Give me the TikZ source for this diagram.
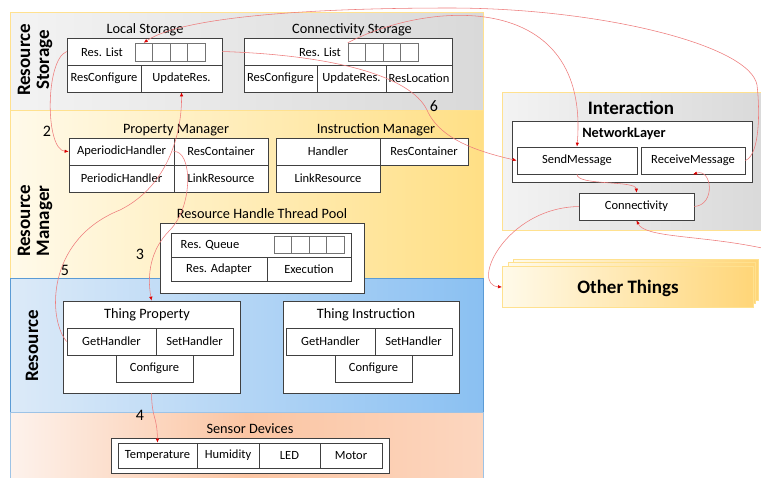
\documentclass[tikz,border=0pt]{standalone}
\usepackage{fontspec}
\setmainfont{Carlito}
\usetikzlibrary{arrows.meta}
\definecolor{stoL}{HTML}{F3F3F3}
\definecolor{stoR}{HTML}{D9D9D9}
\definecolor{manL}{HTML}{FFFAEA}
\definecolor{manR}{HTML}{FFDF85}
\definecolor{resL}{HTML}{DCEAF8}
\definecolor{resR}{HTML}{8AC0F2}
\definecolor{senL}{HTML}{FDF2EC}
\definecolor{senM}{HTML}{FBC5A3}
\definecolor{senR}{HTML}{FCD6BF}
\definecolor{edgeY}{HTML}{FFE18F}
\definecolor{edgeB}{HTML}{5B9BD5}
\definecolor{linkred}{HTML}{EE7B7B}
\begin{document}
\begin{tikzpicture}[x=1pt,y=-1pt,
    cell/.style={draw=black!75, fill=white, line width=.65pt, inner sep=0pt, font=\fontsize{12.5}{14}\selectfont},
    arrcell/.style={draw=black!55, fill=white, line width=.5pt, minimum width=17.5pt, minimum height=18pt, inner sep=0pt},
    boxtitle/.style={font=\fontsize{14.3}{16}\selectfont},
    bandlabel/.style={rotate=90, align=center, font=\fontsize{19}{19}\selectfont\bfseries},
    num/.style={font=\fontsize{16}{16}\selectfont},
    band/.style={line width=.8pt},
    flow/.style={draw=linkred, line width=.55pt, -{Latex[length=4pt,width=3.4pt,color=red!85!black]}}]
  \useasboundingbox[fill=white] (0,0) rectangle (761,477);

  % layers
  \path[band, draw=edgeY, left color=stoL, right color=stoR] (10,12) rectangle (483,110);
  \path[band, draw=edgeY, left color=manL, right color=manR] (10,110) rectangle (483,278);
  \path[band, draw=edgeB, left color=resL, right color=resR] (10,278) rectangle (483,412);
  \path[band, draw=edgeB!60, left color=senL, right color=senR, middle color=senM] (10,412) rectangle (483,482);
  \path[band, draw=edgeY, left color=stoL, right color=stoR] (502,92) rectangle (768,230);

  \node[bandlabel] (lblSto) at (35,60) {Resource\\Storage};
  \node[bandlabel] (lblMan) at (35,221) {Resource\\Manager};
  \node[bandlabel] (lblRes) at (32,346) {Resource};

  % other things (stacked)
  \foreach \dx/\dy in {11/-7, 6/-4, 0/0}{
    \path[draw=edgeY, line width=.7pt, left color=manL, right color=manR!90!orange]
      (502+\dx,266+\dy) rectangle (753+\dx/2.2,307+\dy);
  }
  \node[font=\fontsize{19}{19}\selectfont\bfseries] (other) at (628,288) {Other Things};
  \coordinate (otherW) at (502,287);

  % white containers and cells
  \foreach \n/\xa/\ya/\xb/\yb/\t in {%
      lsList/67/38/222/65/, lsCfg/67/65/141/92/ResConfigure, lsUpd/141/65/222/92/UpdateRes.,
      csList/244/38/452/65/, csCfg/244/65/317/92/ResConfigure, csUpd/317/65/386/92/UpdateRes.,
      csLoc/386/65/452/92/ResLocation,
      pmAp/69/138/174/165/AperiodicHandler, pmRes/174/138/268/165/ResContainer,
      pmPer/69/165/174/192/PeriodicHandler, pmLink/174/165/268/192/LinkResource,
      imHnd/276/138/380/165/Handler, imRes/380/138/468/165/ResContainer,
      imLink/276/165/380/192/LinkResource,
      pool/160/223/364/293/, poolQ/171/233/351/257/, poolAd/171/257/267/281/Res. Adapter,
      poolEx/267/257/351/281/Execution,
      tp/63/301/240/393/, tpGet/67/328/156/355/GetHandler, tpSet/156/328/233/355/SetHandler,
      tpCfg/116/355/193/382/Configure,
      ti/283/301/459/393/, tiGet/286/328/375/355/GetHandler, tiSet/375/328/452/355/SetHandler,
      tiCfg/335/355/412/382/Configure,
      sen/111/438/389/473/, temp/118/443/197/468/Temperature, hum/197/443/259/468/Humidity,
      led/259/443/320/468/LED, motor/320/443/382/468/Motor,
      net/512/121/752/182/, sendMsg/517/147/637/174/SendMessage,
      recvMsg/641/147/745/174/ReceiveMessage, conn/579/193/694/220/Connectivity
    }{
    \node[cell, minimum width={(\xb-\xa)*1pt}, minimum height={(\yb-\ya)*1pt}]
      (\n) at ({(\xa+\xb)/2},{(\ya+\yb)/2}) {\t};
  }

  % resource lists and queue
  \foreach \i in {1,...,4}{
    \node[arrcell] (lsArr\i) at ({135+17.5*(\i-.5)},52) {};
    \node[arrcell] (csArr\i) at ({348+17.5*(\i-.5)},52) {};
    \node[arrcell, minimum height=17pt] (poolArr\i) at ({274+17.5*(\i-.5)},244.5) {};
  }
  \node[font=\fontsize{12.5}{14}\selectfont] (lsListT) at (102,52) {Res. List};
  \node[font=\fontsize{12.5}{14}\selectfont] (csListT) at (320,52) {Res. List};
  \node[font=\fontsize{12.5}{14}\selectfont] (poolQT) at (210,245) {Res. Queue};

  % titles
  \node[boxtitle] (lsT) at (145,30) {Local Storage};
  \node[boxtitle] (csT) at (352,30) {Connectivity Storage};
  \node[boxtitle] (pmT) at (176,130) {Property Manager};
  \node[boxtitle] (imT) at (376,130) {Instruction Manager};
  \node[boxtitle] (poolT) at (262,214) {Resource Handle Thread Pool};
  \node[boxtitle] (tpT) at (147,315) {Thing Property};
  \node[boxtitle] (tiT) at (366,315) {Thing Instruction};
  \node[boxtitle] (senT) at (250,429) {Sensor Devices};
  \node[font=\fontsize{19}{19}\selectfont\bfseries] (interT) at (631,108) {Interaction};
  \node[font=\fontsize{14.3}{16}\selectfont\bfseries] (netT) at (624,134) {NetworkLayer};

  % step numbers
  \node[num] (n2) at (47,131) {2};
  \node[num] (n3) at (140,254) {3};
  \node[num] (n4) at (140,415) {4};
  \node[num] (n5) at (65,270) {5};
  \node[num] (n6) at (434,106) {6};

  % flows
  \coordinate (edgeR) at (762,248);
  \draw[flow] (lsList.west) .. controls (45,60) and (45,150) .. (pmAp.west);
  \draw[flow] (pmRes.west) .. controls (192,150) and (194,205) .. (170,230)
    .. controls (150,250) and (147,275) .. (tp.north);
  \draw[flow] (tp.south) .. controls (152,420) and (157,415) .. (temp.north);
  \draw[flow] (tpGet.west) .. controls (48,320) and (45,240) .. (120,210)
    .. controls (170,185) and (182,130) .. (lsUpd.south);
  \draw[flow] (lsList.east) .. controls (330,55) and (410,75) .. (427,110)
    .. controls (440,140) and (480,152) .. (sendMsg.west);
  \draw[flow] (csArr1.north west) .. controls (430,0) and (590,-10) .. (sendMsg.north);
  \draw[flow] (recvMsg.east) .. controls (760,155) and (760,110) .. (757,85)
    .. controls (750,45) and (600,8) .. (450,8) .. controls (300,8) and (180,18) .. (lsArr1.north);
  \draw[flow] (sendMsg.south) .. controls (577,186) and (636,180) .. (conn.north);
  \draw[flow] (conn.east) .. controls (716,205) and (712,168) .. (recvMsg.south);
  \draw[flow] (conn.west) .. controls (505,208) and (470,285) .. (otherW);
  \draw[flow] (edgeR) .. controls (700,235) and (645,238) .. (conn.south);
\end{tikzpicture}
\end{document}
